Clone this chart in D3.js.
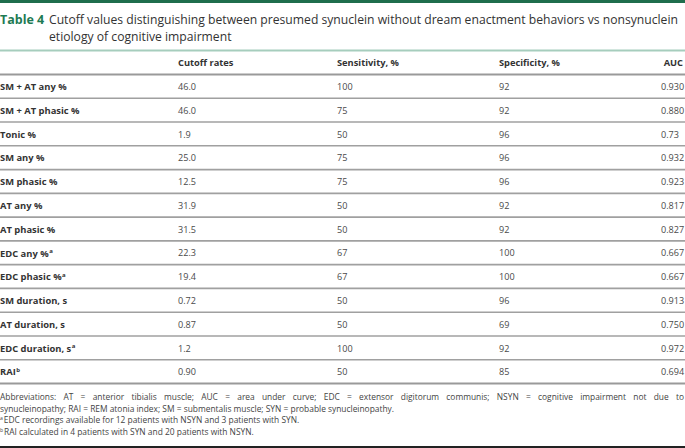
<!DOCTYPE html>
<html><head><meta charset="utf-8">
<script src="https://cdn.jsdelivr.net/npm/d3@7"></script>
<style>
body{margin:0;background:#fff}
svg{display:block}
text{font-family:"Open Sans",sans-serif}
</style>
</head><body>
<svg id="c" width="685" height="448"></svg>
<script>
// ---------- data ----------
const titleLabel = "Table 4";
const titleLines = [
  "Cutoff values distinguishing between presumed synuclein without dream enactment behaviors vs nonsynuclein",
  "etiology of cognitive impairment"
];
const columns = ["", "Cutoff rates", "Sensitivity, %", "Specificity, %", "AUC"];
const measures = ["SM + AT any %", "SM + AT phasic %", "Tonic %", "SM any %", "SM phasic %",
  "AT any %", "AT phasic %", "EDC any %", "EDC phasic %", "SM duration, s", "AT duration, s",
  "EDC duration, s", "RAI"];
const measureNotes = ["", "", "", "", "", "", "", "a", "a", "", "", "a", "b"];
const cutoffs = ["46.0", "46.0", "1.9", "25.0", "12.5", "31.9", "31.5", "22.3", "19.4", "0.72", "0.87", "1.2", "0.90"];
const sensitivity = ["100", "75", "50", "75", "75", "50", "50", "67", "67", "50", "50", "100", "50"];
const specificity = ["92", "92", "96", "96", "96", "92", "92", "100", "100", "96", "69", "92", "85"];
const auc = ["0.930", "0.880", "0.73", "0.932", "0.923", "0.817", "0.827", "0.667", "0.667", "0.913", "0.750", "0.972", "0.694"];
const footnotes = [
  {mark: "", text: "Abbreviations: AT = anterior tibialis muscle; AUC = area under curve; EDC = extensor digitorum communis; NSYN = cognitive impairment not due to"},
  {mark: "", text: "synucleinopathy; RAI = REM atonia index; SM = submentalis muscle; SYN = probable synucleinopathy."},
  {mark: "a", text: "EDC recordings available for 12 patients with NSYN and 3 patients with SYN."},
  {mark: "b", text: "RAI calculated in 4 patients with SYN and 20 patients with NSYN."}
];

// ---------- layout ----------
const W = 685, H = 448;
const svg = d3.select("#c");
const green = "#1f6e4d";
const textDark = "#333";
const textNum = "#4a4a4a";

// top bar
svg.append("rect").attr("x", 0).attr("y", 0).attr("width", W).attr("height", 3).attr("fill", green);

// title
const tl = svg.append("text").attr("x", 0).attr("y", 24).attr("font-size", 13.5)
  .attr("font-weight", 700).attr("fill", "#1e7a53").text(titleLabel);
const tA = svg.append("text").attr("x", 49).attr("y", 24).attr("font-size", 14).attr("fill", textDark).text(titleLines[0]);
const tB = svg.append("text").attr("x", 49).attr("y", 41).attr("font-size", 14).attr("fill", textDark).text(titleLines[1]);
const wA = tA.node().getComputedTextLength();
const fs = 14 * 630 / wA;
tA.attr("font-size", fs);
tB.attr("font-size", fs);
tl.attr("font-size", Math.min(14, fs + 0.3));

// column positions
const colX = d3.scaleOrdinal().domain(columns.map((c, i) => i)).range([0, 178, 337, 499, 661]);

// header
const headTop = 50.5, headBot = 74.5, tableBot = 383.5;
svg.append("line").attr("x1", 0).attr("x2", W).attr("y1", headTop).attr("y2", headTop)
  .attr("stroke", "#a6cdbd").attr("stroke-width", 2);
const head = svg.append("g");
columns.forEach((c, i) => {
  if (!c) return;
  head.append("text")
    .attr("x", i === 4 ? 683 : colX(i))
    .attr("text-anchor", i === 4 ? "end" : "start")
    .attr("y", (headTop + headBot) / 2)
    .attr("dy", "0.35em")
    .attr("font-size", 9.3).attr("font-weight", 700).attr("fill", textDark)
    .text(c);
});
svg.append("line").attr("x1", 0).attr("x2", W).attr("y1", headBot).attr("y2", headBot)
  .attr("stroke", "#9a9a9a").attr("stroke-width", 2);

// rows
const y = d3.scaleBand().domain(d3.range(measures.length)).range([headBot, tableBot]);
const rows = svg.append("g").selectAll("g").data(measures).join("g")
  .attr("transform", (d, i) => `translate(0,${y(i) + y.bandwidth() / 2 + 0.5})`);

const lab = rows.append("text").attr("x", colX(0)).attr("dy", "0.35em")
  .attr("font-size", 9.4).attr("font-weight", 700).attr("fill", textDark);
lab.append("tspan").text(d => d);
lab.append("tspan").attr("font-size", 6).attr("dy", "-0.55em").attr("dx", 0.5)
  .text((d, i) => measureNotes[i]);

const valueCols = [cutoffs, sensitivity, specificity, auc];
valueCols.forEach((arr, k) => {
  rows.append("text").attr("x", colX(k + 1)).attr("dy", "0.35em")
    .attr("font-size", 9.1).attr("fill", textNum)
    .text((d, i) => arr[i]);
});

// separators between rows
svg.append("g").selectAll("line").data(d3.range(1, measures.length)).join("line")
  .attr("x1", 0).attr("x2", W)
  .attr("y1", i => y(i)).attr("y2", i => y(i))
  .attr("stroke", "#a0a0a0").attr("stroke-width", 1.6);
svg.append("line").attr("x1", 0).attr("x2", W).attr("y1", tableBot).attr("y2", tableBot)
  .attr("stroke", "#9a9a9a").attr("stroke-width", 2);

// footnotes
const fn = svg.append("g");
const fnBase = [400, 412, 423.5, 435];
const fTexts = footnotes.map((f, i) => {
  const t = fn.append("text").attr("x", 0).attr("y", fnBase[i]).attr("font-size", 9).attr("fill", "#444");
  if (f.mark) {
    t.append("tspan").attr("font-size", 5.5).attr("dy", "-3").text(f.mark);
    t.append("tspan").attr("dy", "3").attr("dx", 1).text(f.text);
  } else {
    t.text(f.text);
  }
  return t;
});
const w2 = fTexts[1].node().getComputedTextLength();
const sx = 395 / w2;
fn.attr("transform", `scale(${sx},1)`);
const w1 = fTexts[0].node().getComputedTextLength();
const nSpaces = footnotes[0].text.split(" ").length - 1;
fTexts[0].attr("word-spacing", (684 / sx - w1) / nSpaces);

// bottom rule
svg.append("rect").attr("x", 0).attr("y", 446).attr("width", W).attr("height", 2).attr("fill", "#222");
</script>
</body></html>
